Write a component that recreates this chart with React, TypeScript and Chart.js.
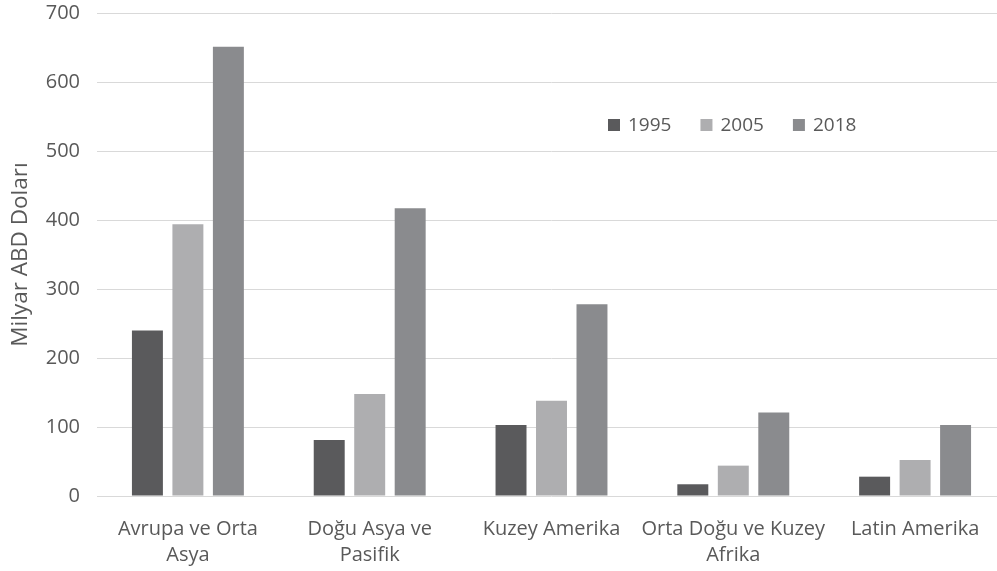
import React, { useEffect, useRef } from "react";
import { Chart, registerables } from "chart.js";

Chart.register(...registerables);

const categories: (string | string[])[] = [
  ["Avrupa ve Orta", "Asya"],
  ["Doğu Asya ve", "Pasifik"],
  "Kuzey Amerika",
  ["Orta Doğu ve Kuzey", "Afrika"],
  "Latin Amerika",
];
const seriesLabels = ["1995", "2005", "2018"];
const values1995 = [240, 81, 103, 17, 28];
const values2005 = [394, 148, 138, 44, 52];
const values2018 = [651, 417, 278, 121, 103];
const yTitle = "Milyar ABD Doları";
const yMin = 0;
const yMax = 700;
const yStep = 100;

const colors = ["#5a5a5c", "#aeaeb0", "#8a8b8e"];
const textColor = "#595959";
const FONT = "'Open Sans', 'Noto Sans', sans-serif";

const insideLegend = {
  id: "insideLegend",
  afterDraw(chart: any, _args: any, opts: any) {
    const ctx = chart.ctx;
    ctx.save();
    ctx.font = `${opts.fontSize}px ${FONT}`;
    ctx.textBaseline = "middle";
    ctx.textAlign = "left";
    let x = opts.x;
    const y = opts.y;
    chart.data.datasets.forEach((ds: any) => {
      ctx.fillStyle = ds.backgroundColor;
      ctx.fillRect(x, y - opts.box / 2, opts.box, opts.box);
      x += opts.box + opts.boxGap;
      ctx.fillStyle = textColor;
      ctx.fillText(ds.label, x, y + 1);
      x += ctx.measureText(ds.label).width + opts.itemGap;
    });
    ctx.restore();
  },
};

const CANVAS_W = 1006;
const CANVAS_H = 571;

export default function App() {
  const ref = useRef<HTMLCanvasElement | null>(null);
  useEffect(() => {
    document.body.style.margin = "0";
    document.body.style.overflow = "hidden";
    if (!ref.current) return;
    const allValues = [values1995, values2005, values2018];
    const chart = new Chart(ref.current, {
      type: "bar",
      data: {
        labels: categories,
        datasets: seriesLabels.map((label, i) => ({
          label,
          data: allValues[i],
          backgroundColor: colors[i],
          borderWidth: 0,
          categoryPercentage: 0.668,
          barPercentage: 0.765,
        })),
      },
      options: {
        animation: false,
        responsive: false,
        layout: { padding: { top: 0, right: 0, bottom: 0, left: 0 } },
        plugins: {
          legend: { display: false },
          tooltip: { enabled: false },
          insideLegend: { x: 608, y: 125, box: 12, boxGap: 8, itemGap: 29, fontSize: 19 },
        } as any,
        scales: {
          x: {
            grid: { display: false },
            border: { display: false },
            ticks: {
              color: textColor,
              font: { family: FONT, size: 20, lineHeight: 1.3 },
              padding: 12,
              maxRotation: 0,
              autoSkip: false,
            },
            afterFit(scale: any) {
              scale.height = 75;
              scale.paddingLeft = 0;
              scale.paddingRight = 0;
            },
          },
          y: {
            min: yMin,
            max: yMax,
            ticks: {
              stepSize: yStep,
              color: textColor,
              font: { family: FONT, size: 20 },
              padding: 17,
            },
            grid: { color: "#d9d9d9", lineWidth: 1, drawTicks: false },
            border: { display: false },
            title: {
              display: true,
              text: yTitle,
              color: textColor,
              font: { family: FONT, size: 22.5 },
              padding: { top: 7, bottom: 0 },
            },
            afterFit(scale: any) {
              scale.width = 97;
              scale.paddingTop = 13;
              scale.paddingBottom = 0;
            },
          },
        },
      },
      plugins: [insideLegend],
    });
    return () => chart.destroy();
  }, []);
  return (
    <div style={{ width: 997, height: 571, overflow: "hidden" }}>
      <canvas
        ref={ref}
        width={CANVAS_W}
        height={CANVAS_H}
        style={{ width: CANVAS_W, height: CANVAS_H, display: "block" }}
      />
    </div>
  );
}
